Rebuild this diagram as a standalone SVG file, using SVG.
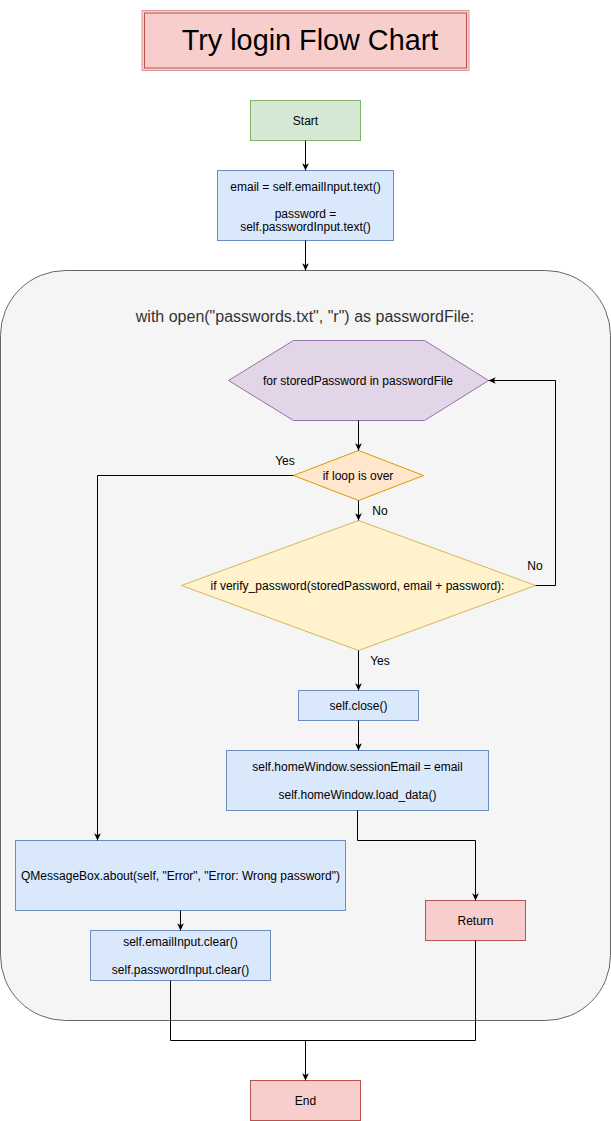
<svg xmlns="http://www.w3.org/2000/svg" width="611" height="1121" viewBox="0 0 611 1121">
<style>
text{font-family:"Liberation Sans",Arial,Helvetica,sans-serif;font-size:12px;fill:#000;text-anchor:middle}
.blue{fill:#dae8fc;stroke:#6c8ebf;stroke-width:1}
.red{fill:#f8cecc;stroke:#b85450;stroke-width:1}
.green{fill:#d5e8d4;stroke:#82b366;stroke-width:1}
.edge{fill:none;stroke:#000;stroke-width:1}
.arr{marker-end:url(#ah)}
</style>
<defs>
<marker id="ah" viewBox="0 0 10 10" refX="9.5" refY="5" markerWidth="8" markerHeight="8" markerUnits="userSpaceOnUse" orient="auto">
<path d="M0.5,0.8 L9.5,5 L0.5,9.2 L2.8,5 z" fill="#000"/>
</marker>
</defs>
<rect width="611" height="1121" fill="#fff"/>
<g id="title">
<rect x="142" y="10.5" width="327" height="60" fill="#f8cecc" stroke="#d99a98" stroke-width="1"/>
<rect x="144.5" y="13" width="322" height="55" fill="none" stroke="#b85450" stroke-width="1"/>
<text x="310" y="50" style="font-size:28.8px">Try login Flow Chart</text>
</g>
<g id="container">
<rect x="0.5" y="270.5" width="610" height="750" rx="65" ry="65" fill="#f5f5f5" stroke="#666666"/>
<text x="305" y="322" style="font-size:16px;fill:#333333">with open("passwords.txt", "r") as passwordFile:</text>
</g>
<g id="start">
<rect class="green" x="250.5" y="100.5" width="110" height="40"/>
<text x="305.5" y="125">Start</text>
</g>
<g id="readInputs">
<rect class="blue" x="217.5" y="170.5" width="176" height="70"/>
<text x="305.5" y="191">email = self.emailInput.text()</text>
<text x="305.5" y="217.5">password =</text>
<text x="305.5" y="231">self.passwordInput.text()</text>
</g>
<g id="forLoop">
<polygon points="228.5,380.5 293.5,340.5 424.5,340.5 488.5,380.5 424.5,420.5 293.5,420.5" fill="#e1d5e7" stroke="#9673a6"/>
<text x="358" y="385">for storedPassword in passwordFile</text>
</g>
<g id="loopOver">
<polygon points="358.5,450.5 423.5,475.5 358.5,500.5 293.5,475.5" fill="#ffe6cc" stroke="#d79b00"/>
<text x="358" y="480">if loop is over</text>
</g>
<g id="verify">
<polygon points="358.5,520.5 535.5,585.5 358.5,650.5 181.5,585.5" fill="#fff2cc" stroke="#d6b656"/>
<text x="357.5" y="590">if verify_password(storedPassword, email + password):</text>
</g>
<g id="close">
<rect class="blue" x="298.5" y="690.5" width="120" height="30"/>
<text x="358.5" y="709.5">self.close()</text>
</g>
<g id="session">
<rect class="blue" x="226.5" y="750.5" width="262" height="60"/>
<text x="357.5" y="771">self.homeWindow.sessionEmail = email</text>
<text x="357.5" y="799">self.homeWindow.load_data()</text>
</g>
<g id="return">
<rect class="red" x="425.5" y="900.5" width="100" height="40"/>
<text x="475.5" y="925">Return</text>
</g>
<g id="msgBox">
<rect class="blue" x="15.5" y="840.5" width="330" height="70"/>
<text x="180.5" y="880">QMessageBox.about(self, "Error", "Error: Wrong password")</text>
</g>
<g id="clear">
<rect class="blue" x="90.5" y="930.5" width="180" height="50"/>
<text x="180.5" y="946">self.emailInput.clear()</text>
<text x="180.5" y="974">self.passwordInput.clear()</text>
</g>
<g id="end">
<rect class="red" x="250.5" y="1080.5" width="110" height="40"/>
<text x="305.5" y="1105">End</text>
</g>
<g id="connectors">
<path class="edge arr" d="M305.5,140.5 V170.5"/>
<path class="edge arr" d="M305.5,240.5 V270.5"/>
<path class="edge arr" d="M358.5,420.5 V450.5"/>
<path class="edge arr" d="M293.5,475.5 H97.5 V840.5"/>
<text x="285" y="465">Yes</text>
<path class="edge arr" d="M358.5,500.5 V520.5"/>
<text x="380" y="514.5">No</text>
<path class="edge arr" d="M535.5,585.5 H555.5 V380.5 H488.5"/>
<text x="535" y="570">No</text>
<path class="edge arr" d="M358.5,650.5 V690.5"/>
<text x="380" y="665">Yes</text>
<path class="edge arr" d="M358.5,720.5 V750.5"/>
<path class="edge arr" d="M357.5,810.5 V840.5 H475.5 V900.5"/>
<path class="edge arr" d="M180.5,910.5 V930.5"/>
<path class="edge" d="M170.5,980.5 V1040.5 H475.5 V940.5"/>
<path class="edge arr" d="M305.5,1040.5 V1080.5"/>
</g>
</svg>
